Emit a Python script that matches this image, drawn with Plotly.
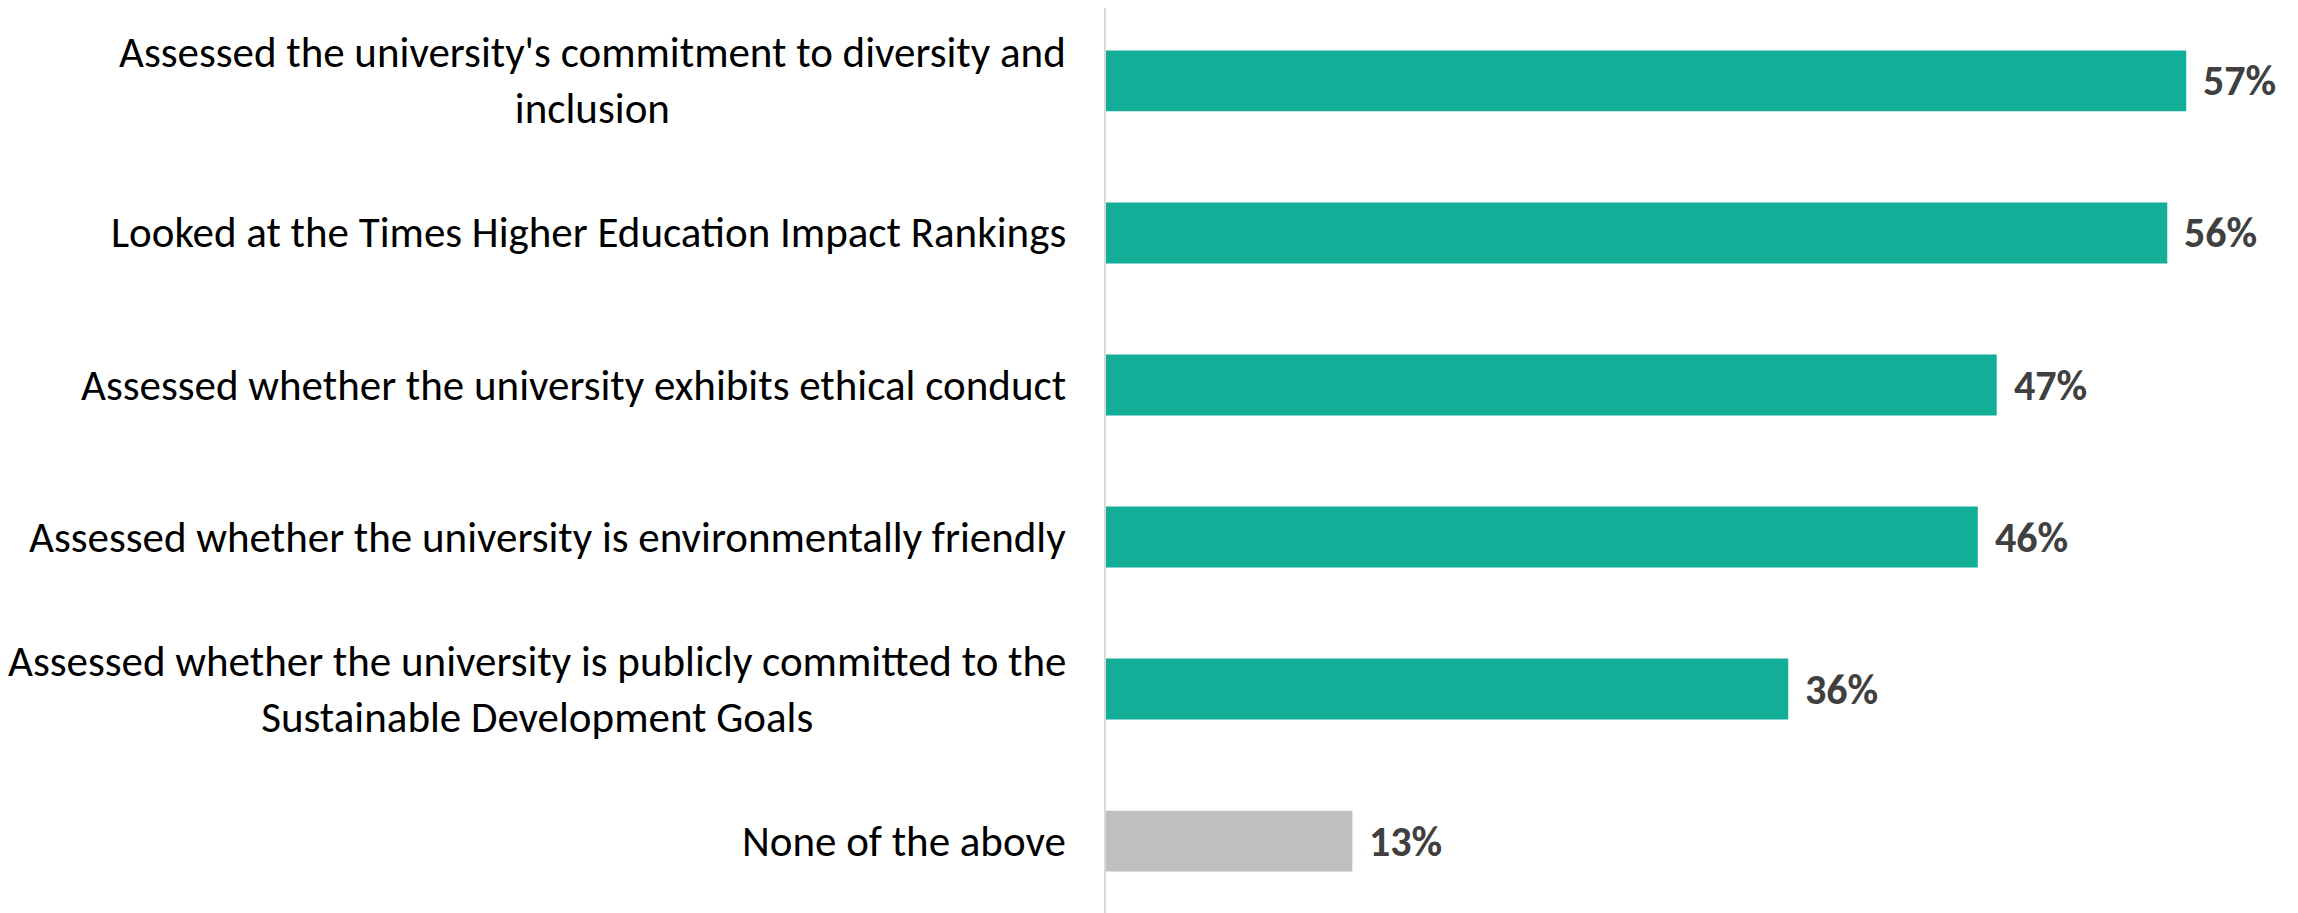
import plotly.graph_objects as go

categories = [
    "Assessed the university's commitment to diversity and<br>inclusion",
    "Looked at the Times Higher Education Impact Rankings",
    "Assessed whether the university exhibits ethical conduct",
    "Assessed whether the university is environmentally friendly",
    "Assessed whether the university is publicly committed to the<br>Sustainable Development Goals",
    "None of the above",
]
values = [57, 56, 47, 46, 36, 13]
value_labels = ["57%", "56%", "47%", "46%", "36%", "13%"]
colors = ["#13ae98", "#13ae98", "#13ae98", "#13ae98", "#13ae98", "#bfbfbf"]

FONT = "Carlito, 'Liberation Sans Narrow', 'Arial Narrow', 'Open Sans', sans-serif"

idx = list(range(len(categories)))

fig = go.Figure()
fig.add_trace(go.Bar(
    x=values, y=idx, orientation="h",
    marker=dict(color=colors, line=dict(width=0)),
    width=0.4,
    hoverinfo="skip",
))

annotations = []
for i, (c, v, t) in enumerate(zip(categories, values, value_labels)):
    annotations.append(dict(
        x=0, y=i, xref="x", yref="y", text=c, showarrow=False,
        xanchor="right", yanchor="middle", align="center", xshift=-38,
        font=dict(family=FONT, size=43, color="#000000"),
    ))
    annotations.append(dict(
        x=v, y=i, xref="x", yref="y", text="<b>" + t + "</b>", showarrow=False,
        xanchor="left", yanchor="middle", xshift=15,
        font=dict(family=FONT, size=42, color="#404040"),
    ))

fig.update_layout(
    width=2298, height=913,
    margin=dict(l=1098, r=0, t=0, b=0),
    paper_bgcolor="white", plot_bgcolor="white",
    showlegend=False,
    annotations=annotations,
    xaxis=dict(range=[0, 63.32], visible=False, fixedrange=True),
    yaxis=dict(range=[5.526, -0.48], showticklabels=False, showgrid=False,
               zeroline=False, showline=True, linecolor="#d9d9d9", linewidth=2,
               ticks=""),
    bargap=0.6,
)

fig.write_html("out.html")
